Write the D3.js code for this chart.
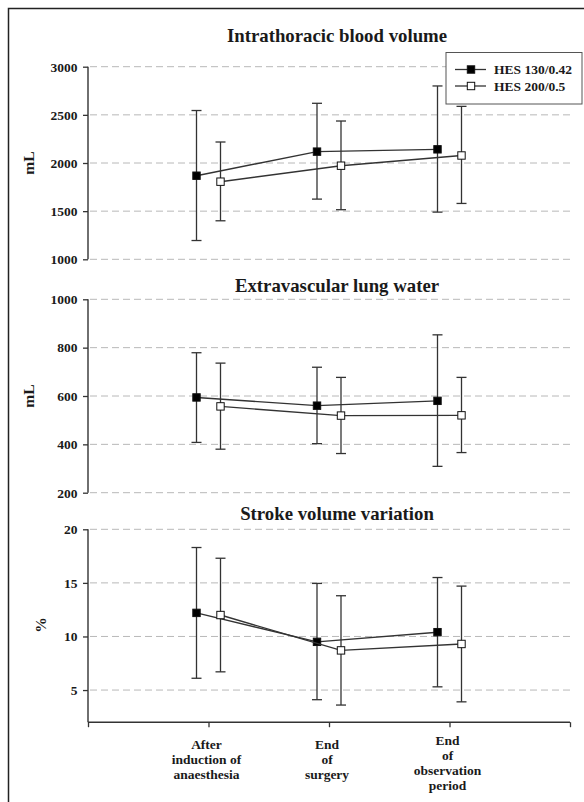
<!DOCTYPE html>
<html>
<head>
<meta charset="utf-8">
<script src="https://cdn.jsdelivr.net/npm/d3@7"></script>
<style>
  html, body { margin: 0; padding: 0; background: #fff; }
  svg { display: block; }
  text { font-family: "Liberation Serif", "Times New Roman", serif; font-weight: bold; fill: #1a1a1a; }
</style>
</head>
<body>
<div id="chart"></div>
<script>
// ---------- data ----------
const categories = [
  ["After", "induction of", "anaesthesia"],
  ["End", "of", "surgery"],
  ["End", "of", "observation", "period"]
];
const seriesNames = ["HES 130/0.42", "HES 200/0.5"];

const panelTitles = ["Intrathoracic blood volume", "Extravascular lung water", "Stroke volume variation"];
const panelUnits = ["mL", "mL", "%"];
const panelDomains = [[1000, 3000], [200, 1000], [2, 20]];
const panelTicks = [[1000, 1500, 2000, 2500, 3000], [200, 400, 600, 800, 1000], [5, 10, 15, 20]];

// Intrathoracic blood volume (mean, low, high)
const itbvHES130 = [1868, 2118, 2142];
const itbvHES130Low = [1195, 1625, 1490];
const itbvHES130High = [2545, 2620, 2800];
const itbvHES200 = [1806, 1972, 2078];
const itbvHES200Low = [1400, 1515, 1580];
const itbvHES200High = [2218, 2436, 2588];

// Extravascular lung water
const evlwHES130 = [594, 560, 580];
const evlwHES130Low = [408, 403, 309];
const evlwHES130High = [779, 719, 853];
const evlwHES200 = [557, 519, 520];
const evlwHES200Low = [380, 362, 366];
const evlwHES200High = [736, 677, 677];

// Stroke volume variation
const svvHES130 = [12.2, 9.5, 10.4];
const svvHES130Low = [6.1, 4.1, 5.3];
const svvHES130High = [18.3, 14.95, 15.5];
const svvHES200 = [12.0, 8.7, 9.3];
const svvHES200Low = [6.7, 3.6, 3.9];
const svvHES200High = [17.3, 13.8, 14.7];

const panelData = [
  [[itbvHES130, itbvHES130Low, itbvHES130High], [itbvHES200, itbvHES200Low, itbvHES200High]],
  [[evlwHES130, evlwHES130Low, evlwHES130High], [evlwHES200, evlwHES200Low, evlwHES200High]],
  [[svvHES130, svvHES130Low, svvHES130High], [svvHES200, svvHES200Low, svvHES200High]]
];

// ---------- layout ----------
const W = 584, H = 802;
const svg = d3.select("#chart").append("svg").attr("width", W).attr("height", H);

// outer frame
svg.append("rect").attr("x", 8.5).attr("y", 8.5).attr("width", 640).attr("height", 840)
  .attr("fill", "none").attr("stroke", "#222").attr("stroke-width", 1.5);

const x = d3.scaleLinear().domain([0, 4]).range([88, 570]);
const seriesOffset = [-12, 12];
const panelRanges = [[259.3, 66.7], [492.7, 299.3], [722.2, 529.3]];
const titleY = [35.5, 285, 513];
const unitPos = [[28, 163], [28, 396], [40.5, 625]];

panelData.forEach((pd, pi) => {
  const y = d3.scaleLinear().domain(panelDomains[pi]).range(panelRanges[pi]);
  const g = svg.append("g");

  // grid
  g.selectAll(".grid").data(panelTicks[pi]).join("line")
    .attr("x1", x(0) + 2).attr("x2", x(4))
    .attr("y1", d => y(d)).attr("y2", d => y(d))
    .attr("stroke", "#b8b8b8").attr("stroke-width", 1).attr("stroke-dasharray", "7,4");

  // y axis
  const yAxis = d3.axisLeft(y).tickValues(panelTicks[pi]).tickSize(5).tickPadding(5.5).tickFormat(d3.format("d"));
  const ya = g.append("g").attr("transform", `translate(${x(0)},0)`).call(yAxis);
  ya.select(".domain").attr("d", `M0,${y.range()[1]}V${y.range()[0]}`).attr("stroke", "#333").attr("stroke-width", 1.4);
  ya.selectAll(".tick line").attr("stroke", "#333").attr("stroke-width", 1.3);
  ya.selectAll(".tick text").style("font-family", '"Liberation Serif", serif').style("font-weight", "bold")
    .style("font-size", "13.5px").attr("fill", "#1a1a1a");

  // title
  g.append("text").attr("x", 337).attr("y", titleY[pi]).attr("text-anchor", "middle")
    .attr("dominant-baseline", "central").style("font-size", "18.8px").text(panelTitles[pi]);

  // unit
  g.append("text").attr("transform", `translate(${unitPos[pi][0]},${unitPos[pi][1]}) rotate(-90)`)
    .attr("text-anchor", "middle").attr("dominant-baseline", "central")
    .style("font-size", "15.5px").text(panelUnits[pi]);

  // series
  pd.forEach((s, si) => {
    const [mean, lo, hi] = s;
    const px = i => x(i + 1) + seriesOffset[si];
    const sg = g.append("g");
    // error bars
    mean.forEach((m, i) => {
      sg.append("line").attr("x1", px(i)).attr("x2", px(i)).attr("y1", y(lo[i])).attr("y2", y(hi[i]))
        .attr("stroke", "#333").attr("stroke-width", 1.3);
      [lo[i], hi[i]].forEach(v => {
        sg.append("line").attr("x1", px(i) - 5).attr("x2", px(i) + 5).attr("y1", y(v)).attr("y2", y(v))
          .attr("stroke", "#333").attr("stroke-width", 1.3);
      });
    });
    // connecting line
    sg.append("path").datum(mean)
      .attr("d", d3.line().x((d, i) => px(i)).y(d => y(d)))
      .attr("fill", "none").attr("stroke", "#333").attr("stroke-width", 1.4);
    // markers
    sg.selectAll("rect.m").data(mean).join("rect")
      .attr("x", (d, i) => px(i) - 3.7).attr("y", d => y(d) - 3.7)
      .attr("width", 7.4).attr("height", 7.4)
      .attr("fill", si === 0 ? "#000" : "#fff").attr("stroke", "#111").attr("stroke-width", 1);
  });
});

// x axis (bottom panel only)
const xAxis = d3.axisBottom(x).tickValues([0, 1, 2, 3, 4]).tickSize(5).tickFormat("");
const xa = svg.append("g").attr("transform", `translate(0,${panelRanges[2][0]})`).call(xAxis);
xa.select(".domain").attr("d", `M${x(0)},0H${x(4)}`).attr("stroke", "#333").attr("stroke-width", 1.6);
xa.selectAll(".tick line").attr("stroke", "#333").attr("stroke-width", 1.3);

// category labels
categories.forEach((lines, i) => {
  const center = lines.length === 3 ? 759 : 763;
  const lh = 15;
  const start = center - (lines.length - 1) * lh / 2;
  const t = svg.append("text").attr("text-anchor", "middle").style("font-size", "13.5px");
  lines.forEach((ln, j) => {
    t.append("tspan").attr("x", x(i + 1) - 2).attr("y", start + j * lh).attr("dominant-baseline", "central").text(ln);
  });
});

// legend
const lg = svg.append("g");
lg.append("rect").attr("x", 446).attr("y", 52.5).attr("width", 136).attr("height", 51.5)
  .attr("fill", "#fff").attr("stroke", "#555").attr("stroke-width", 1);
seriesNames.forEach((name, i) => {
  const ly = 69.5 + i * 16.5;
  lg.append("line").attr("x1", 455).attr("x2", 486).attr("y1", ly).attr("y2", ly)
    .attr("stroke", "#333").attr("stroke-width", 1.3);
  lg.append("rect").attr("x", 471 - 3.7).attr("y", ly - 3.7).attr("width", 7.4).attr("height", 7.4)
    .attr("fill", i === 0 ? "#000" : "#fff").attr("stroke", "#111").attr("stroke-width", 1);
  lg.append("text").attr("x", 494).attr("y", ly).attr("dominant-baseline", "central")
    .style("font-size", "13.5px").text(name);
});
</script>
</body>
</html>
